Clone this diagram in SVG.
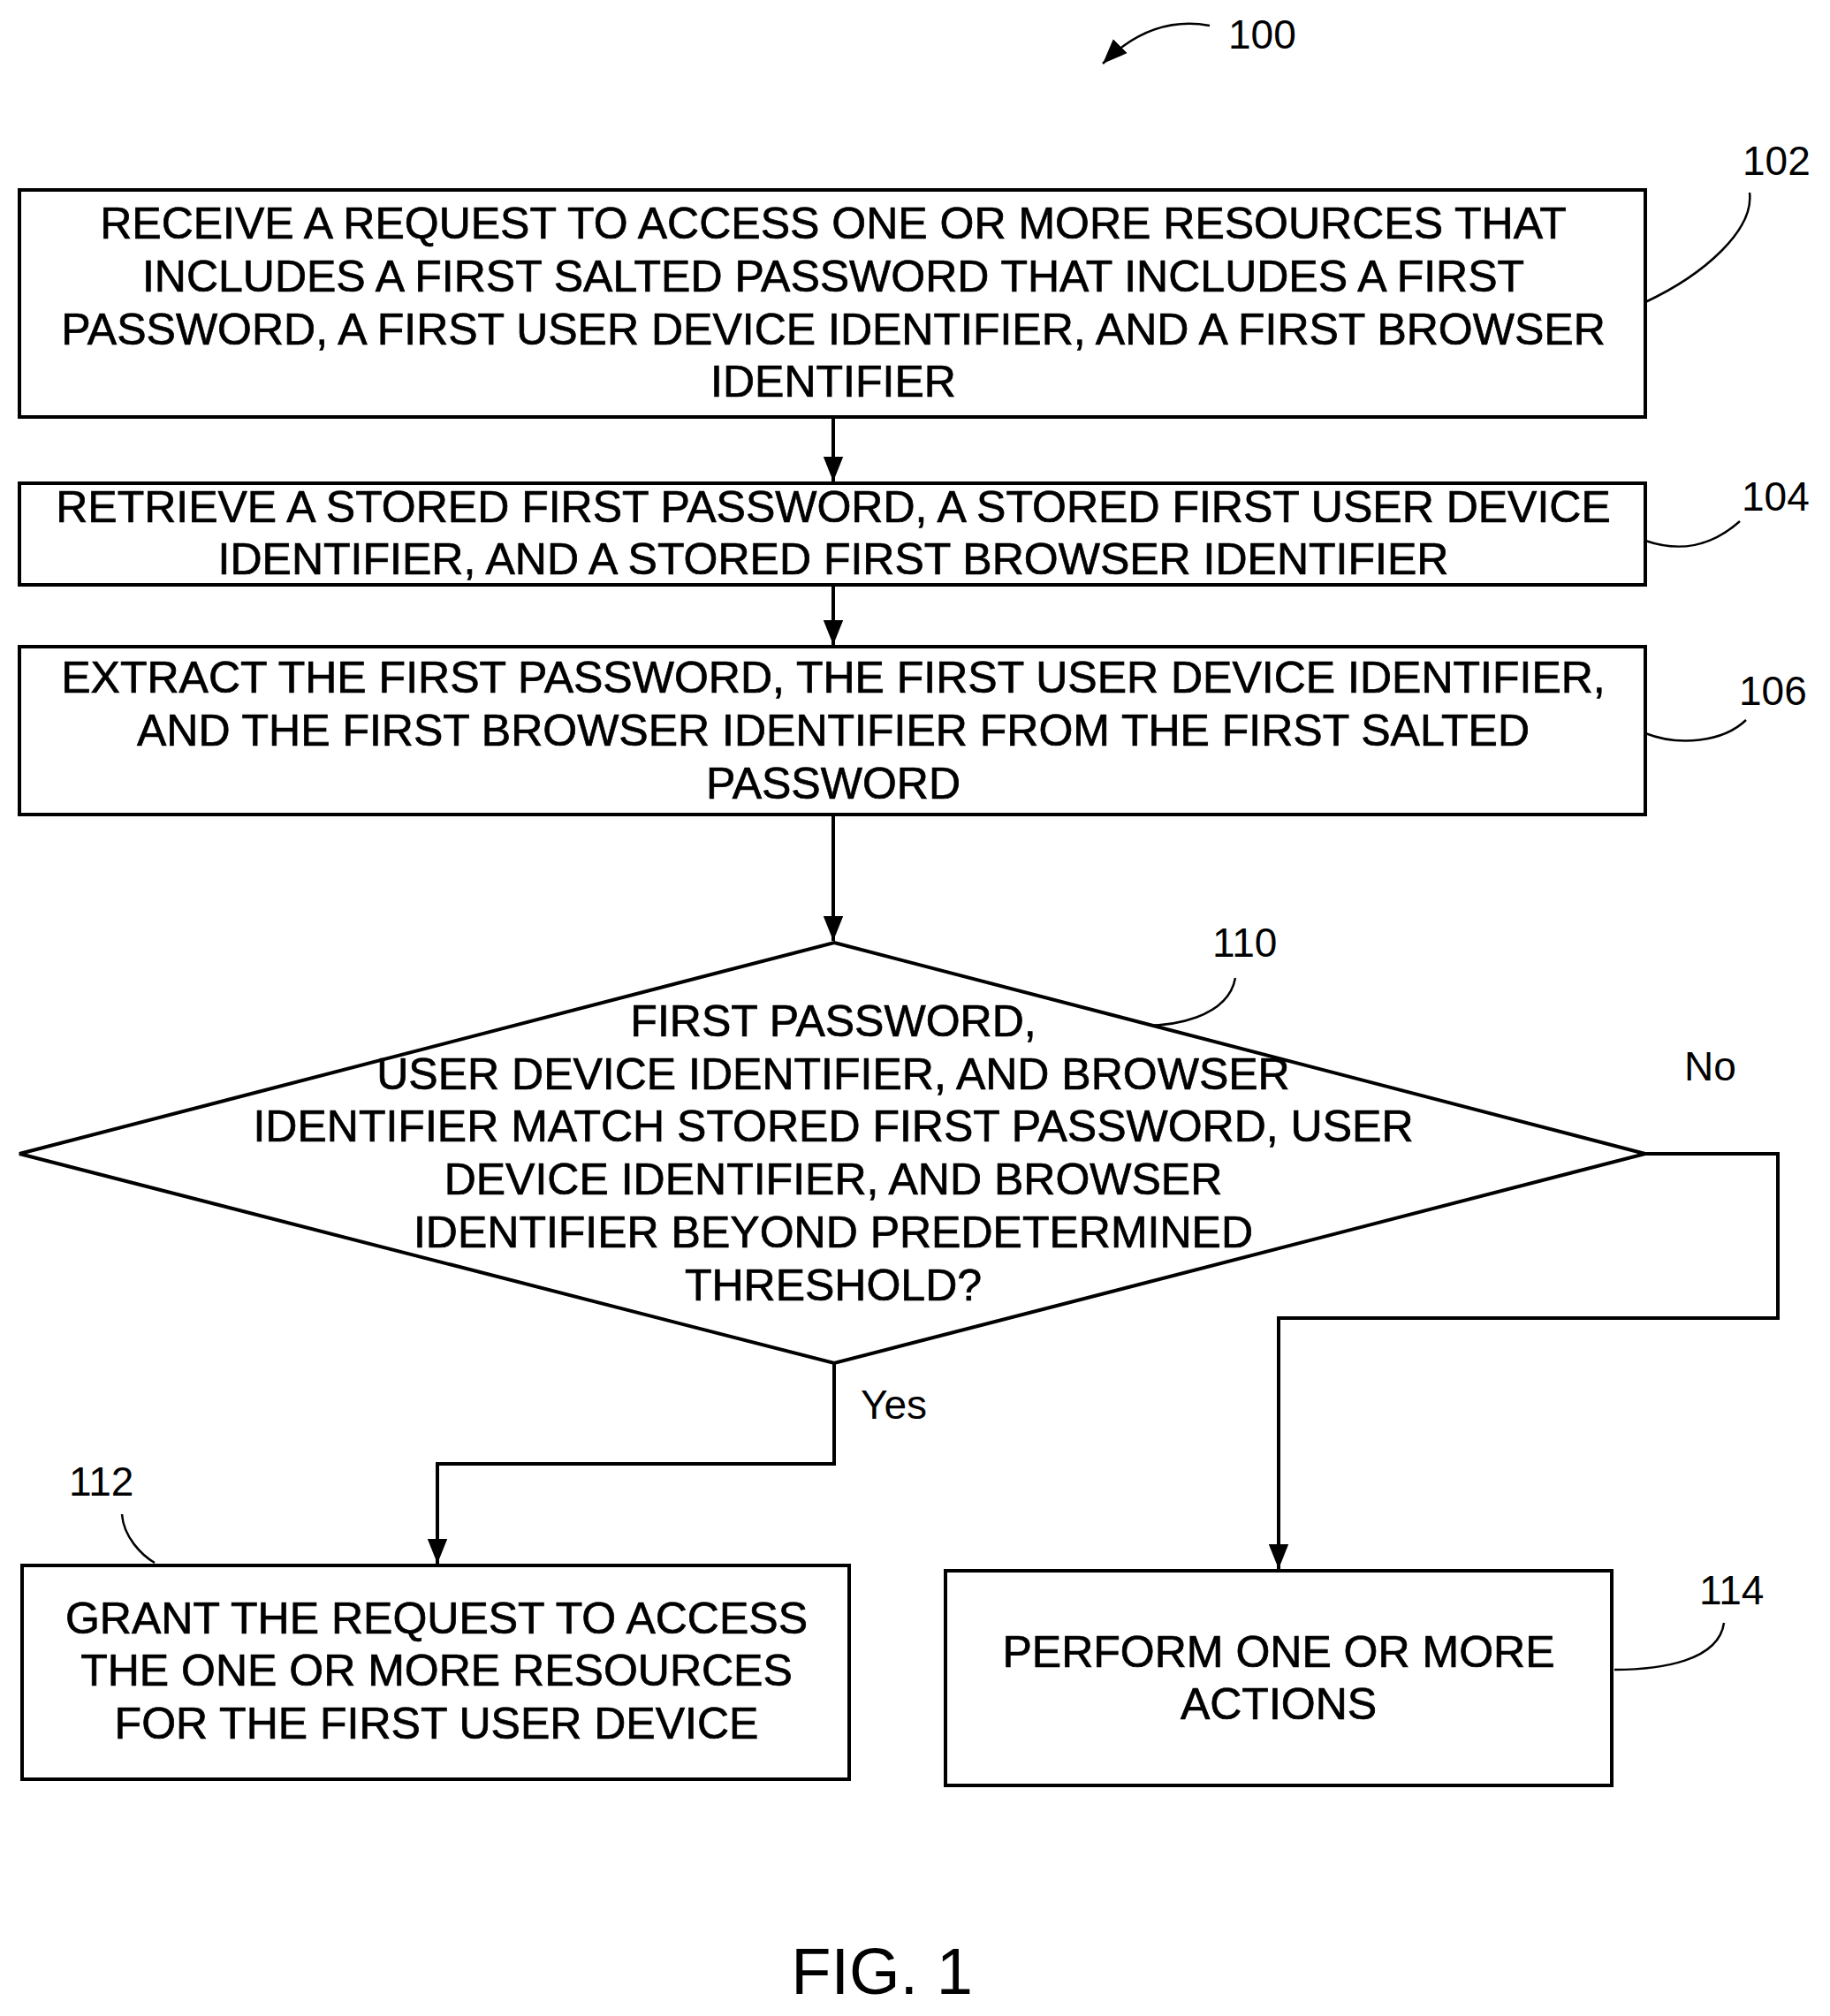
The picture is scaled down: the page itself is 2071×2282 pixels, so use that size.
<svg xmlns="http://www.w3.org/2000/svg" width="2071" height="2282" viewBox="0 0 2071 2282">
<defs>
<marker id="a" viewBox="0 0 10 10" refX="10" refY="5" markerWidth="28" markerHeight="28" markerUnits="userSpaceOnUse" orient="auto"><path d="M0,1 L10,5 L0,9 z" fill="#000"/></marker>
</defs>
<style>
.b{fill:#fff;stroke:#000;stroke-width:4}
.t{font-family:"Liberation Sans",Arial,sans-serif;font-size:50px;text-anchor:middle;fill:#000;stroke:#000;stroke-width:0.7}
.l{font-family:"Liberation Sans",Arial,sans-serif;font-size:46px;fill:#000}
.c{fill:none;stroke:#000;stroke-width:4}
.ld{fill:none;stroke:#000;stroke-width:2.5}
</style>
<rect width="2071" height="2282" fill="#fff"/>
<g id="connectors">
<path class="c" d="M943,472 V545" marker-end="url(#a)"/>
<path class="c" d="M943,662 V730" marker-end="url(#a)"/>
<path class="c" d="M943,922 V1065" marker-end="url(#a)"/>
<path class="c" d="M944,1543 V1657 H495 V1770" marker-end="url(#a)"/>
<path class="c" d="M1862,1306 H2012 V1492 H1447 V1776" marker-end="url(#a)"/>
<path class="ld" d="M1369,29 C1320,20 1280,40 1248,72" marker-end="url(#a)"/>
<path class="ld" d="M1862,342 C1930,310 1985,260 1980,218"/>
<path class="ld" d="M1862,612 C1900,625 1935,620 1969,590"/>
<path class="ld" d="M1862,830 C1900,845 1950,840 1976,815"/>
<path class="ld" d="M1274,1160 C1330,1165 1390,1150 1398,1107"/>
<path class="ld" d="M175,1769 C160,1760 140,1740 138,1714"/>
<path class="ld" d="M1827,1890 C1880,1890 1945,1880 1951,1837"/>
</g>
<g id="n102"><rect class="b" x="22" y="215" width="1840" height="257"/>
<text class="t" x="943" y="270">RECEIVE A REQUEST TO ACCESS ONE OR MORE RESOURCES THAT</text>
<text class="t" x="943" y="330">INCLUDES A FIRST SALTED PASSWORD THAT INCLUDES A FIRST</text>
<text class="t" x="943" y="390">PASSWORD, A FIRST USER DEVICE IDENTIFIER, AND A FIRST BROWSER</text>
<text class="t" x="943" y="449">IDENTIFIER</text></g>
<g id="n104"><rect class="b" x="22" y="547" width="1840" height="115"/>
<text class="t" x="943" y="591">RETRIEVE A STORED FIRST PASSWORD, A STORED FIRST USER DEVICE</text>
<text class="t" x="943" y="650">IDENTIFIER, AND A STORED FIRST BROWSER IDENTIFIER</text></g>
<g id="n106"><rect class="b" x="22" y="732" width="1840" height="190"/>
<text class="t" x="943" y="784">EXTRACT THE FIRST PASSWORD, THE FIRST USER DEVICE IDENTIFIER,</text>
<text class="t" x="943" y="844">AND THE FIRST BROWSER IDENTIFIER FROM THE FIRST SALTED</text>
<text class="t" x="943" y="904">PASSWORD</text></g>
<g id="n110"><polygon class="b" points="944,1067 1862,1306 944,1543 22,1306"/>
<text class="t" x="943" y="1173">FIRST PASSWORD,</text>
<text class="t" x="943" y="1233">USER DEVICE IDENTIFIER, AND BROWSER</text>
<text class="t" x="943" y="1292">IDENTIFIER MATCH STORED FIRST PASSWORD, USER</text>
<text class="t" x="943" y="1352">DEVICE IDENTIFIER, AND BROWSER</text>
<text class="t" x="943" y="1412">IDENTIFIER BEYOND PREDETERMINED</text>
<text class="t" x="943" y="1472">THRESHOLD?</text></g>
<g id="n112"><rect class="b" x="25" y="1772" width="936" height="242"/>
<text class="t" x="494" y="1849">GRANT THE REQUEST TO ACCESS</text>
<text class="t" x="494" y="1908">THE ONE OR MORE RESOURCES</text>
<text class="t" x="494" y="1968">FOR THE FIRST USER DEVICE</text></g>
<g id="n114"><rect class="b" x="1070" y="1778" width="754" height="243"/>
<text class="t" x="1447" y="1887">PERFORM ONE OR MORE</text>
<text class="t" x="1447" y="1946">ACTIONS</text></g>
<g id="labels">
<text class="l" x="1390" y="55">100</text>
<text class="l" x="1972" y="198">102</text>
<text class="l" x="1971" y="578">104</text>
<text class="l" x="1968" y="798">106</text>
<text class="l" x="1372" y="1083">110</text>
<text class="l" x="78" y="1693">112</text>
<text class="l" x="1923" y="1816">114</text>
<text class="l" x="1906" y="1223">No</text>
<text class="l" x="974" y="1606">Yes</text>
<text class="l" x="998" y="2257" style="font-size:74px;text-anchor:middle">FIG. 1</text>
</g>
</svg>
